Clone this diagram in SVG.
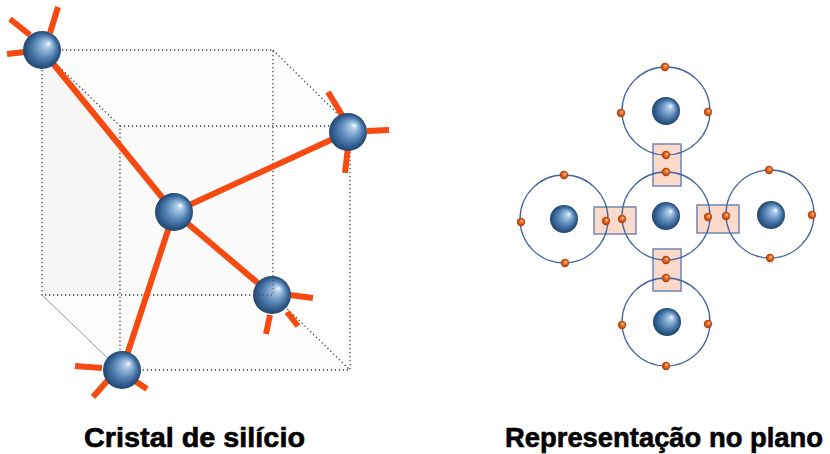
<svg xmlns="http://www.w3.org/2000/svg" width="830" height="454" viewBox="0 0 830 454">
  <defs>
    <radialGradient id="atom" cx="0.5" cy="0.5" r="0.5" fx="0.68" fy="0.32">
      <stop offset="0" stop-color="#f4faff"/>
      <stop offset="0.18" stop-color="#a9c8e6"/>
      <stop offset="0.55" stop-color="#5b88b9"/>
      <stop offset="0.85" stop-color="#2f5a89"/>
      <stop offset="1" stop-color="#234670"/>
    </radialGradient>
    <radialGradient id="electron" cx="0.5" cy="0.5" r="0.5" fx="0.62" fy="0.35">
      <stop offset="0" stop-color="#ffd0a8"/>
      <stop offset="0.45" stop-color="#e86a24"/>
      <stop offset="1" stop-color="#a23a0c"/>
    </radialGradient>
    <style>
      .edge { fill: none; stroke: #444; stroke-width: 1.3; stroke-dasharray: 1.3 2.7; }
      .edge-solid { fill: none; stroke: #999; stroke-width: 1; }
      .bond { stroke: #f74a10; stroke-width: 6; stroke-linecap: butt; fill: none; }
      .orbit { fill: none; stroke: #46649e; stroke-width: 1.3; }
      .share { fill: #fbd9cb; stroke: #6f86b0; stroke-width: 1.5; }
      .label { font-family: "Liberation Sans", Arial, sans-serif; font-weight: bold; font-size: 27px; fill: #000; stroke: #000; stroke-width: 0.6; }
    </style>
  </defs>

  <rect width="830" height="454" fill="#fff"/>

  <!-- Silicon crystal: cube frame -->
  <g id="cube">
    <polygon points="42,50 273,50 273,295 42,295" fill="#fbfbfb"/>
    <polygon points="42,50 120,126 120,370 42,295" fill="#f6f6f6"/>
    <polygon points="42,50 273,50 350,126 120,126" fill="#fcfcfc"/>
    <polygon points="42,295 273,295 350,370 120,370" fill="#fdfdfd"/>
    <path class="edge" d="M42,50 H273 V295 M42,50 V295 H273"/>
    <path class="edge" d="M120,126 H350 V370 H120 Z"/>
    <path class="edge" d="M42,50 L120,126 M273,50 L350,126 M273,295 L350,370"/>
    <path class="edge-solid" d="M42,295 L120,370"/>
  </g>

  <!-- Covalent bonds between atoms -->
  <g id="bonds">
    <path class="bond" d="M42,50 L174,212 M348,132 L174,212 M272,295 L174,212 M122,370 L174,212"/>
    <!-- bonds leaving the cube -->
    <path class="bond" d="M10,19 L30,35 M58,7 L50,33 M7,54 L25,52"/>
    <path class="bond" d="M328,92 L342,115 M367,131 L389,130 M348,147 L345,173"/>
    <path class="bond" d="M290,295 L313,298 M287,312 L298,326 M270,315 L266,334"/>
    <path class="bond" d="M75,366 L102,368 M108,380 L93,397 M132,379 L147,389"/>
  </g>

  <g id="atom-corner-top">
    <circle cx="42" cy="50" r="19" fill="url(#atom)"/>
  </g>
  <g id="atom-corner-right">
    <circle cx="348" cy="132" r="19" fill="url(#atom)"/>
  </g>
  <g id="atom-center">
    <circle cx="174" cy="212" r="19" fill="url(#atom)"/>
  </g>
  <g id="atom-corner-back">
    <circle cx="272" cy="295" r="19" fill="url(#atom)"/>
    <path class="edge" d="M273,276 V295 H253" opacity="0.7"/>
  </g>
  <g id="atom-corner-bottom">
    <circle cx="122" cy="370" r="19" fill="url(#atom)"/>
  </g>

  <!-- Planar representation: shared electron pairs -->
  <g id="pairs">
    <rect class="share" x="653" y="144" width="28" height="42"/>
    <rect class="share" x="653" y="249" width="28" height="42"/>
    <rect class="share" x="594" y="207" width="42" height="27"/>
    <rect class="share" x="697" y="205" width="42" height="28"/>
  </g>

  <g id="si-top">
    <circle class="orbit" cx="666" cy="111" r="44"/>
    <circle cx="666" cy="111" r="14" fill="url(#atom)"/>
    <g fill="url(#electron)">
      <circle cx="665" cy="67" r="4.2"/>
      <circle cx="621" cy="113" r="4.2"/>
      <circle cx="708" cy="112" r="4.2"/>
      <circle cx="666" cy="155" r="4.2"/>
    </g>
  </g>
  <g id="si-center">
    <circle class="orbit" cx="666" cy="216" r="44"/>
    <circle cx="666" cy="216" r="14" fill="url(#atom)"/>
    <g fill="url(#electron)">
      <circle cx="666" cy="172" r="4.2"/>
      <circle cx="622" cy="219" r="4.2"/>
      <circle cx="708" cy="217" r="4.2"/>
      <circle cx="666" cy="260" r="4.2"/>
    </g>
  </g>
  <g id="si-left">
    <circle class="orbit" cx="564" cy="219" r="44"/>
    <circle cx="564" cy="219" r="14" fill="url(#atom)"/>
    <g fill="url(#electron)">
      <circle cx="564" cy="175" r="4.2"/>
      <circle cx="521" cy="222" r="4.2"/>
      <circle cx="565" cy="263" r="4.2"/>
      <circle cx="606" cy="221" r="4.2"/>
    </g>
  </g>
  <g id="si-right">
    <circle class="orbit" cx="770" cy="214" r="44"/>
    <circle cx="771" cy="215" r="14" fill="url(#atom)"/>
    <g fill="url(#electron)">
      <circle cx="769" cy="170" r="4.2"/>
      <circle cx="812" cy="215" r="4.2"/>
      <circle cx="770" cy="258" r="4.2"/>
      <circle cx="726" cy="216" r="4.2"/>
    </g>
  </g>
  <g id="si-bottom">
    <circle class="orbit" cx="666" cy="322" r="44"/>
    <circle cx="667" cy="322" r="14" fill="url(#atom)"/>
    <g fill="url(#electron)">
      <circle cx="666" cy="278" r="4.2"/>
      <circle cx="622" cy="325" r="4.2"/>
      <circle cx="708" cy="324" r="4.2"/>
      <circle cx="666" cy="366" r="4.2"/>
    </g>
  </g>

  <g id="labels">
    <text class="label" x="84" y="447" textLength="221" lengthAdjust="spacingAndGlyphs">Cristal de silício</text>
    <text class="label" x="505" y="447" textLength="318" lengthAdjust="spacingAndGlyphs">Representação no plano</text>
  </g>
</svg>
